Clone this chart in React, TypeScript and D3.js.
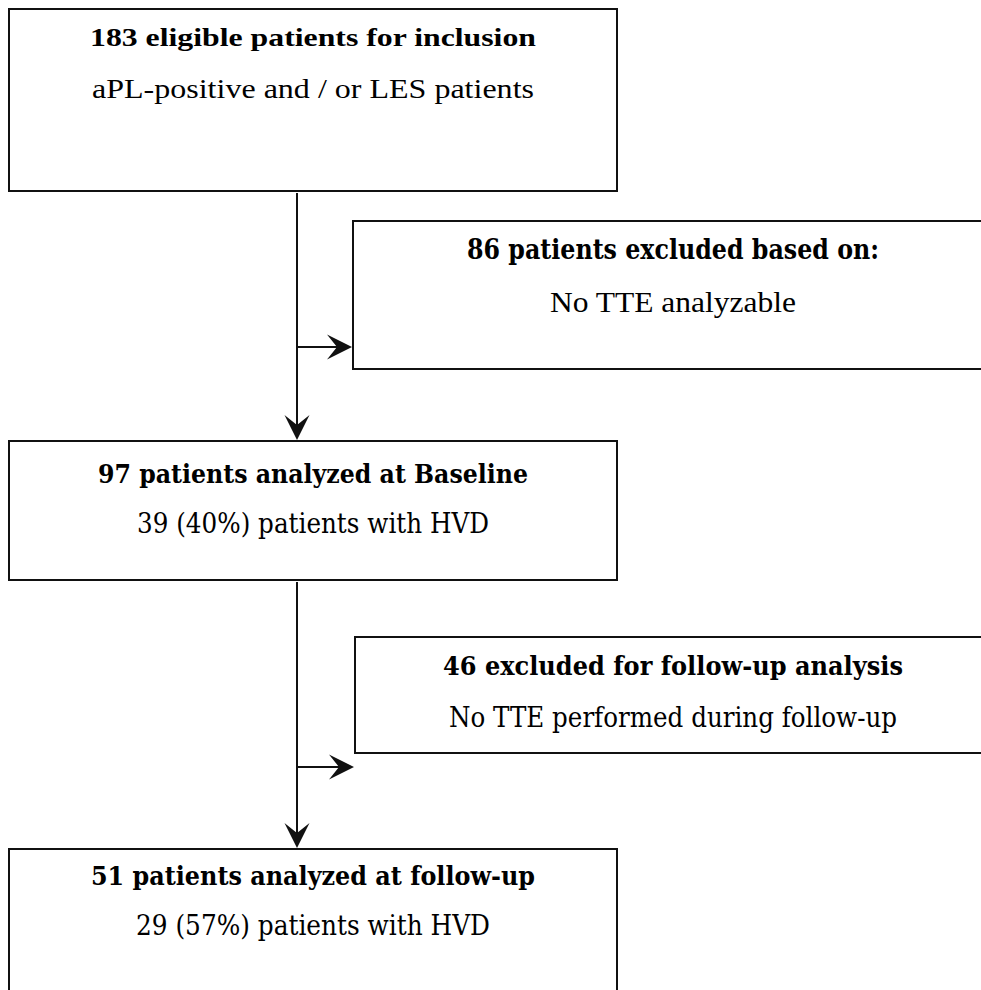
import React, { useEffect, useRef } from 'react';
import * as d3 from 'd3';

// stages of the cohort (main column)
const stageCounts = [183, 97, 51];
const stageTitles = [
  'eligible patients for inclusion',
  'patients analyzed at Baseline',
  'patients analyzed at follow-up',
];
const inclusionNote = 'aPL-positive and / or LES patients';
const hvdCounts = [39, 29];
const hvdPercents = [40, 57];

// exclusions (side boxes)
const exclusionCounts = [86, 46];
const exclusionTitles = ['patients excluded based on:', 'excluded for follow-up analysis'];
const exclusionReasons = ['No TTE analyzable', 'No TTE performed during follow-up'];

const W = 981;
const H = 990;

export default function App() {
  const svgRef = useRef<SVGSVGElement>(null);

  useEffect(() => {
    if (!svgRef.current) return;
    const svg = d3.select(svgRef.current);
    svg.selectAll('*').remove();

    const stroke = '#111';
    const times = '"Liberation Serif", "Times New Roman", serif';
    const cambria = '"DejaVu Serif", Cambria, serif';

    // main column boxes
    const mainX = 9;
    const mainW = 608;
    const mainTop = [9, 441, 849];
    const mainBottom = [191, 580, 1010];
    const mainCx = mainX + mainW / 2;

    // side boxes
    const sideX = [353, 355];
    const sideTop = [221, 637];
    const sideBottom = [369, 753];
    const sideCx = 673;

    const flowX = 297;
    const branchY = [347, 767];

    mainTop.forEach((t, i) => {
      svg
        .append('rect')
        .attr('x', mainX)
        .attr('y', t)
        .attr('width', mainW)
        .attr('height', mainBottom[i] - t)
        .attr('fill', 'none')
        .attr('stroke', stroke)
        .attr('stroke-width', 2);
    });

    sideTop.forEach((t, i) => {
      svg
        .append('rect')
        .attr('x', sideX[i])
        .attr('y', t)
        .attr('width', W + 40 - sideX[i])
        .attr('height', sideBottom[i] - t)
        .attr('fill', 'none')
        .attr('stroke', stroke)
        .attr('stroke-width', 2);
    });

    const line = d3.line<[number, number]>();

    // stealth-style arrowhead
    const head = (tx: number, ty: number, dir: 'down' | 'right') => {
      const len = 25;
      const half = 12.5;
      const notch = 15;
      const pts: [number, number][] =
        dir === 'down'
          ? [
              [tx, ty],
              [tx - half, ty - len],
              [tx, ty - notch],
              [tx + half, ty - len],
            ]
          : [
              [tx, ty],
              [tx - len, ty - half],
              [tx - notch, ty],
              [tx - len, ty + half],
            ];
      svg
        .append('path')
        .attr('d', line(pts) + 'Z')
        .attr('fill', stroke);
    };

    // vertical flow + side branches
    for (let i = 0; i < 2; i++) {
      svg
        .append('path')
        .attr('d', line([[flowX, mainBottom[i] + 2], [flowX, mainTop[i + 1] - 8]]))
        .attr('stroke', stroke)
        .attr('stroke-width', 2)
        .attr('fill', 'none');
      head(flowX, mainTop[i + 1] - 1, 'down');

      svg
        .append('path')
        .attr('d', line([[flowX, branchY[i]], [sideX[i] - 8, branchY[i]]]))
        .attr('stroke', stroke)
        .attr('stroke-width', 2)
        .attr('fill', 'none');
      head(sideX[i] - 1, branchY[i], 'right');
    }

    const label = (
      txt: string,
      cx: number,
      y: number,
      size: number,
      len: number,
      family: string,
      bold: boolean
    ) => {
      svg
        .append('text')
        .attr('x', cx)
        .attr('y', y)
        .attr('text-anchor', 'middle')
        .attr('textLength', len)
        .attr('lengthAdjust', 'spacingAndGlyphs')
        .style('font-family', family)
        .style('font-weight', bold ? 'bold' : 'normal')
        .style('font-size', `${size}px`)
        .style('fill', '#000')
        .text(txt);
    };

    // main boxes
    label(`${stageCounts[0]} ${stageTitles[0]}`, mainCx, 46, 26, 446, times, true);
    label(inclusionNote, mainCx, 98, 28, 442, times, false);

    label(`${stageCounts[1]} ${stageTitles[1]}`, mainCx, 483, 26, 430, cambria, true);
    label(`${hvdCounts[0]} (${hvdPercents[0]}%) patients with HVD`, mainCx, 533, 27, 352, cambria, false);

    label(`${stageCounts[2]} ${stageTitles[2]}`, mainCx, 885, 26, 444, cambria, true);
    label(`${hvdCounts[1]} (${hvdPercents[1]}%) patients with HVD`, mainCx, 935, 27, 354, cambria, false);

    // side boxes
    label(`${exclusionCounts[0]} ${exclusionTitles[0]}`, sideCx, 259, 27, 412, cambria, true);
    label(exclusionReasons[0], sideCx, 312, 30, 246, times, false);

    label(`${exclusionCounts[1]} ${exclusionTitles[1]}`, sideCx, 675, 26, 460, cambria, true);
    label(exclusionReasons[1], sideCx, 727, 27, 448, cambria, false);
  }, []);

  return (
    <svg
      ref={svgRef}
      width={W}
      height={H}
      style={{ position: 'absolute', left: 0, top: 0, display: 'block', background: '#fff' }}
    />
  );
}
